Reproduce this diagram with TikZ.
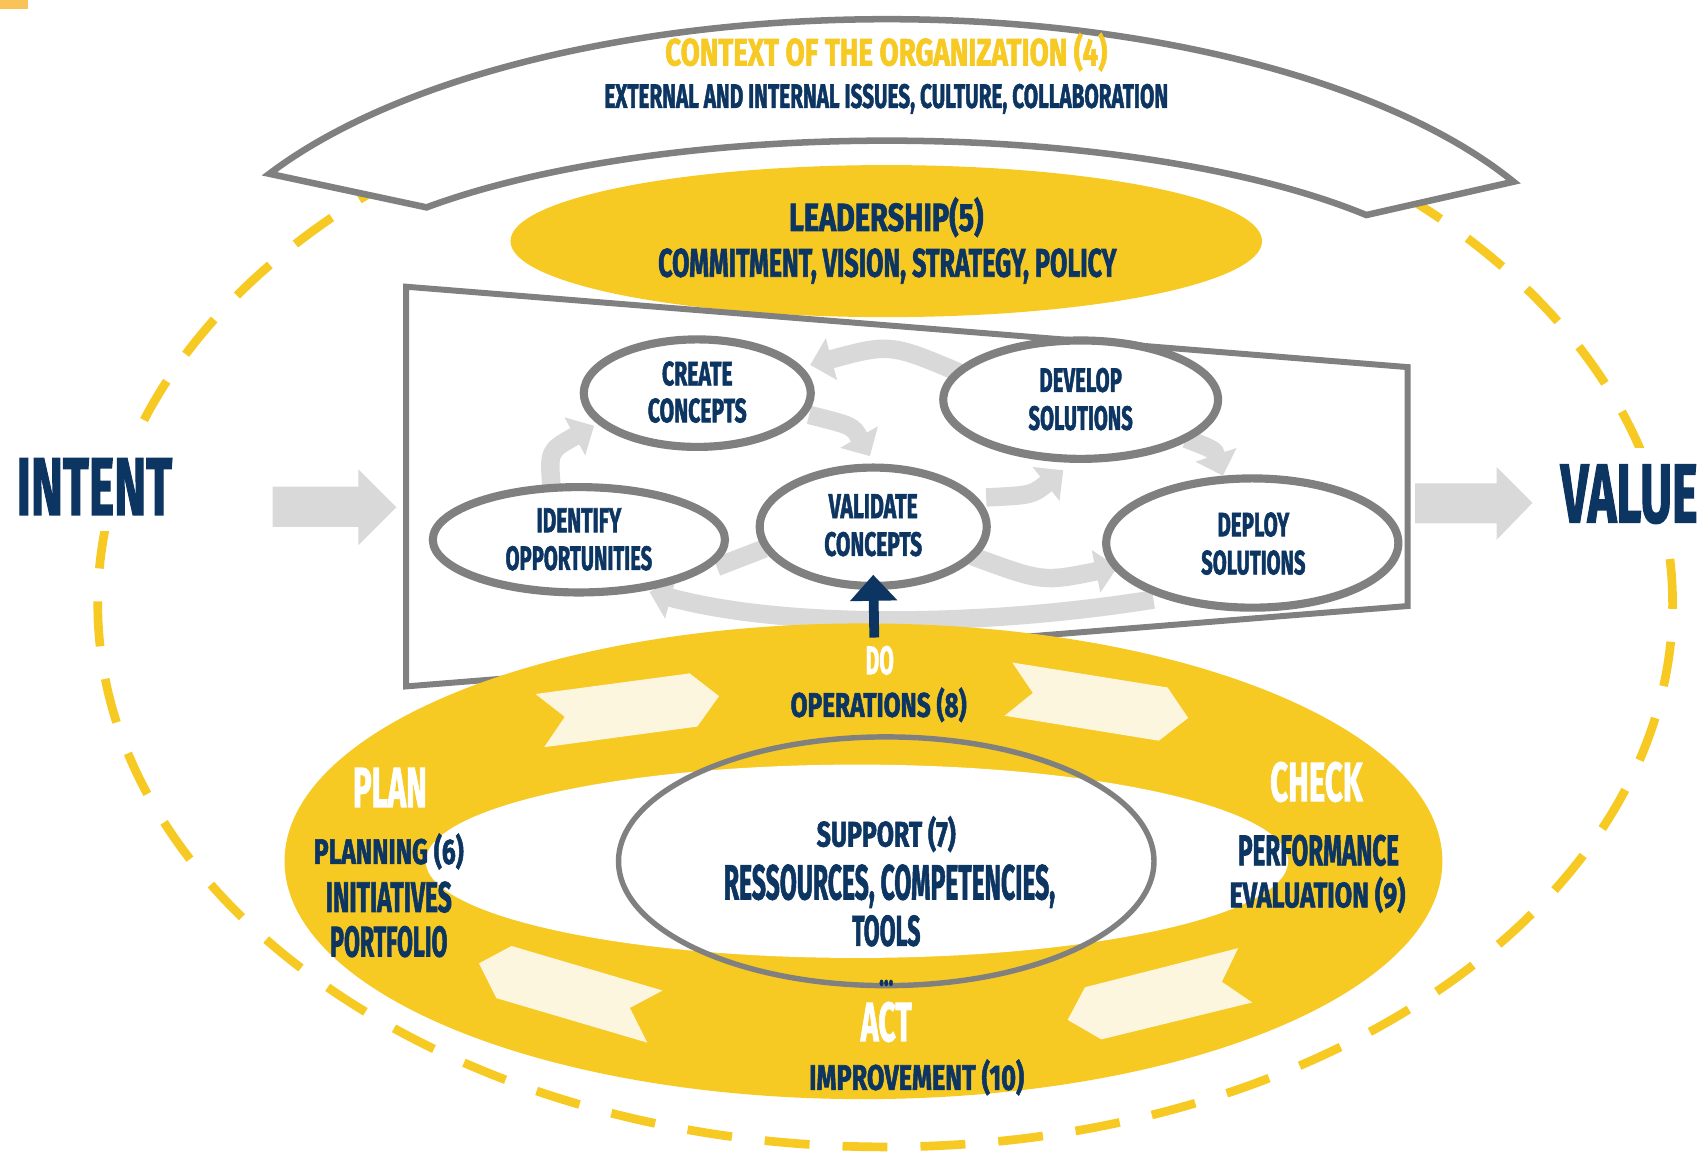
\documentclass[tikz,border=0pt]{standalone}
\usepackage{fontspec}
\usepackage{graphicx}
\usetikzlibrary{arrows.meta,shapes.geometric}
\newfontfamily\condraw{Fira Sans}[BoldFeatures={FakeBold=2}]
\newcommand\cond{\condraw\bfseries}
\newdimen\px \px=0.010861cm
\newcommand\fit[3]{\resizebox{#1\px}{#2\px}{\cond #3}}
\definecolor{ylw}{HTML}{F7C923}
\definecolor{navy}{HTML}{0C3562}
\definecolor{gry}{HTML}{808080}
\definecolor{lgry}{HTML}{D9D9D9}
\definecolor{cream}{HTML}{FDF6DF}
\definecolor{orng}{HTML}{F9C35A}
\tikzset{
  txt/.style={inner sep=0pt, text=navy},
  wtxt/.style={inner sep=0pt, text=white},
  concept/.style={ellipse, draw=gry, line width=7.5*\px, fill=white, inner sep=0pt},
  cyc/.style={lgry, line width=17*\px, -{Triangle[width=0.42cm,length=0.22cm]}},
  chev/.style={fill=cream},
  blockarrow/.style={fill=lgry},
}
\begin{document}
\begin{tikzpicture}[x=\px,y=\px]
\path[use as bounding box] (0,0) rectangle (1568,-1066);
% small corner mark
\fill[orng] (0,0) rectangle (26,-8);
% dashed outer ellipse
\draw[ylw, line width=8*\px, dash pattern=on 0.45cm off 0.33cm] (815,-556) ellipse [x radius=725*\px, y radius=500*\px];
% context band
\draw[gry, line width=6*\px, fill=white] (248,-160) arc[start angle=150.3, end angle=28, x radius=654*\px, y radius=282*\px] -- (1258,-198) arc[start angle=37, end angle=140, x radius=553*\px, y radius=172*\px] -- cycle;
\node[inner sep=0pt, text=ylw] (ctxt) at (816,-48) {\fit{407}{30}{CONTEXT OF THE ORGANIZATION (4)}};
\node[txt] (ctxsub) at (816,-91) {\fit{519}{22}{EXTERNAL AND INTERNAL ISSUES, CULTURE, COLLABORATION}};
% leadership
\node[ellipse, fill=ylw, minimum width=692*\px, minimum height=140*\px] (lead) at (816,-222) {};
\node[txt] (leadt) at (816,-200) {\fit{179}{31}{LEADERSHIP(5)}};
\node[txt] (leads) at (817,-245) {\fit{422}{26}{COMMITMENT, VISION, STRATEGY, POLICY}};
% block arrows
\fill[blockarrow] (251,-448) -- (330,-448) -- (330,-432) -- (365,-467) -- (330,-502) -- (330,-485) -- (251,-485) -- cycle;
\fill[blockarrow] (1303,-445) -- (1378,-445) -- (1378,-430) -- (1411,-463) -- (1378,-497) -- (1378,-482) -- (1303,-482) -- cycle;
% trapezoid
\draw[gry, line width=5.5*\px, fill=white] (374,-264) -- (1296,-338) -- (1296,-558) -- (374,-632) -- cycle;
% cycle arrows
\draw[cyc] (508,-450) .. controls (505,-415) .. (547,-392);
\draw[cyc] (745,-382) .. controls (785,-392) .. (801,-420);
\draw[cyc] (890,-346) .. controls (820,-316) .. (746,-336);
\draw[cyc] (908,-458) .. controls (950,-456) .. (979,-433);
\draw[cyc] (1092,-404) .. controls (1118,-414) .. (1126,-438);
\draw[cyc] (895,-512) .. controls (960,-536) .. (1029,-522);
\draw[cyc] (1062,-552) .. controls (900,-578) and (720,-578) .. (598,-545);
\draw[lgry, line width=17*\px] (660,-522) -- (704,-505);
% concept ellipses
\node[concept, minimum width=209*\px, minimum height=99*\px] (create) at (642,-362) {};
\node[concept, minimum width=253*\px, minimum height=109*\px] (develop) at (995,-368) {};
\node[concept, minimum width=269*\px, minimum height=97*\px] (identify) at (533,-497) {};
\node[concept, minimum width=209*\px, minimum height=109*\px] (validate) at (804,-485) {};
\node[concept, minimum width=269*\px, minimum height=119*\px] (deploy) at (1153,-500) {};
\node[txt] (createa) at (642,-344) {\fit{65}{22}{CREATE}};
\node[txt] (createb) at (642,-378) {\fit{91}{22}{CONCEPTS}};
\node[txt] (developa) at (995,-350) {\fit{76}{22}{DEVELOP}};
\node[txt] (developb) at (995,-385) {\fit{96}{22}{SOLUTIONS}};
\node[txt] (identifya) at (533,-479) {\fit{78}{22}{IDENTIFY}};
\node[txt] (identifyb) at (533,-514) {\fit{135}{22}{OPPORTUNITIES}};
\node[txt] (validatea) at (804,-466) {\fit{82}{22}{VALIDATE}};
\node[txt] (validateb) at (804,-501) {\fit{90}{22}{CONCEPTS}};
\node[txt] (deploya) at (1154,-483) {\fit{66}{22}{DEPLOY}};
\node[txt] (deployb) at (1154,-518) {\fit{96}{22}{SOLUTIONS}};
% PDCA ring
\fill[ylw] (795,-793) ellipse [x radius=533*\px, y radius=219*\px];
\fill[white] (789,-793) ellipse [x radius=397*\px, y radius=89*\px];
\fill[chev] (493,-639) -- (520,-660) -- (501,-688) -- (642,-669) -- (662,-641) -- (635,-620) -- cycle;
\fill[chev] (932,-610) -- (951,-638) -- (925,-659) -- (1067,-682) -- (1094,-661) -- (1075,-633) -- cycle;
\fill[chev] (471,-871) -- (610,-912) -- (580,-928) -- (596,-960) -- (457,-919) -- (441,-887) -- cycle;
\fill[chev] (999,-909) -- (1140,-873) -- (1125,-904) -- (1153,-923) -- (1014,-957) -- (983,-939) -- cycle;
\draw[gry, line width=5*\px] (816,-793) ellipse [x radius=246.5*\px, y radius=114.5*\px];
\node[wtxt] (dot) at (810,-608) {\fit{26}{26}{DO}};
\node[txt] (opt) at (809,-649) {\fit{162}{27}{OPERATIONS (8)}};
\node[wtxt] (plant) at (359,-725) {\fit{68}{36}{PLAN}};
\node[txt] (plana) at (358,-784) {\fit{138}{28}{PLANNING (6)}};
\node[txt] (planb) at (358,-826) {\fit{116}{28}{INITIATIVES}};
\node[txt] (planc) at (358,-867) {\fit{108}{28}{PORTFOLIO}};
\node[wtxt] (checkt) at (1212,-720) {\fit{85}{36}{CHECK}};
\node[txt] (checka) at (1214,-783) {\fit{148}{28}{PERFORMANCE}};
\node[txt] (checkb) at (1213,-824) {\fit{162}{28}{EVALUATION (9)}};
\node[txt] (supa) at (816,-768) {\fit{128}{28}{SUPPORT (7)}};
\node[txt] (supb) at (819,-816) {\fit{305}{32}{RESSOURCES, COMPETENCIES,}};
\node[txt] (supc) at (816,-857) {\fit{63}{28}{TOOLS}};
\node[txt] (supd) at (816,-905) {\fit{13}{5}{...}};
\node[wtxt] (actt) at (816,-941) {\fit{47}{36}{ACT}};
\node[txt] (acta) at (844,-992) {\fit{198}{28}{IMPROVEMENT (10)}};
% navy arrow
\coordinate (dobase) at (805,-587);
\draw[navy, line width=9*\px, -{Triangle[width=0.46cm,length=0.26cm]}] (dobase) -- ([yshift=14*\px]validate.south);
% intent / value
\node[txt, fill=white, inner sep=15*\px] (intent) at (87,-448) {\fit{143}{52}{INTENT}};
\node[txt, fill=white, inner sep=15*\px] (value) at (1500,-455) {\fit{126}{53}{VALUE}};
\end{tikzpicture}
\end{document}
